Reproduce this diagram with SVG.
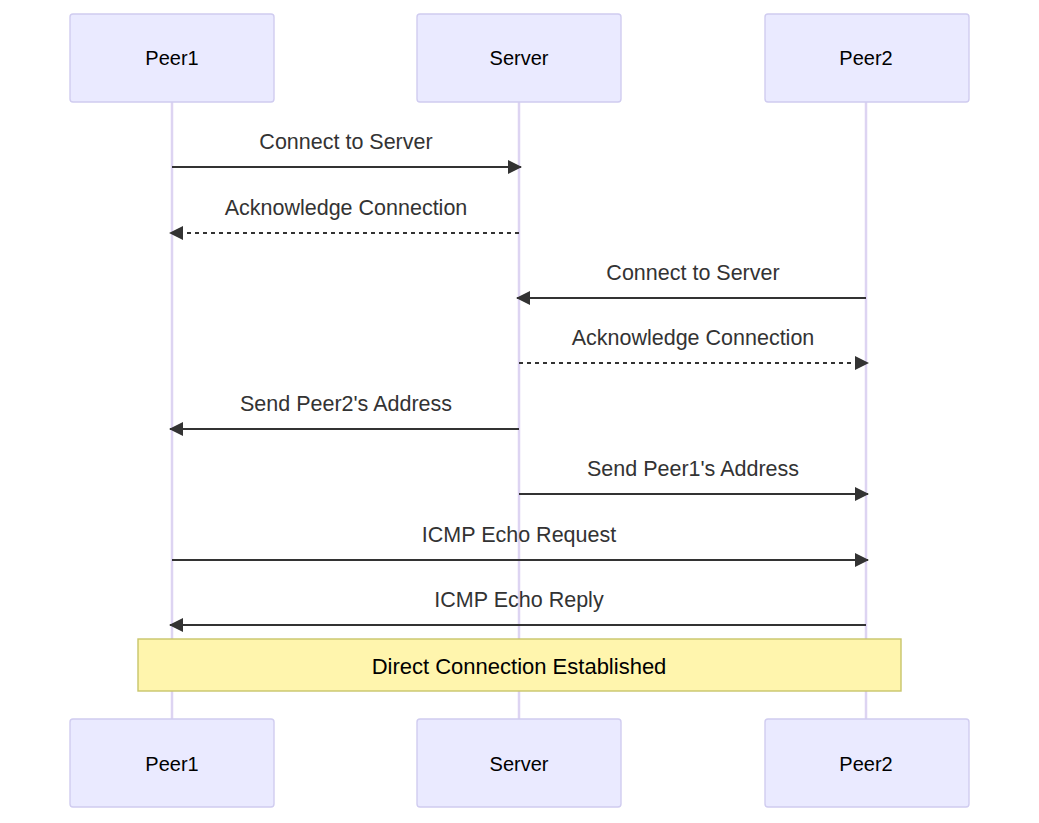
<svg xmlns="http://www.w3.org/2000/svg" width="1039" height="823" viewBox="0 0 1039 823">
<style>
.actor{fill:#eaeaff;stroke:#d0ccf0;stroke-width:1.4}
.lifeline{stroke:#ddd4f2;stroke-width:2.5}
.lbl{font-family:"Liberation Sans",Arial,sans-serif;font-size:20px;fill:#000;text-anchor:middle;dominant-baseline:central}
.msg{font-family:"Liberation Sans",Arial,sans-serif;font-size:21.5px;fill:#333;text-anchor:middle;dominant-baseline:central}
.ntxt{font-family:"Liberation Sans",Arial,sans-serif;font-size:22px;fill:#000;text-anchor:middle;dominant-baseline:central}
.solid{stroke:#333;stroke-width:2;fill:none}
.dash{stroke:#333;stroke-width:2;fill:none;stroke-dasharray:4 4}
.note{fill:#fff5ad;stroke:#c8c56a;stroke-width:1.4}
</style>
<defs>
<marker id="ah2" viewBox="0 0 14 14" refX="13" refY="7" markerWidth="14" markerHeight="14" markerUnits="userSpaceOnUse" orient="auto">
<path d="M0,0 L14,7 L0,14 z" fill="#333"/>
</marker>
</defs>
<g id="lifelines">
<line class="lifeline" x1="172" y1="102" x2="172" y2="719"/>
<line class="lifeline" x1="519" y1="102" x2="519" y2="719"/>
<line class="lifeline" x1="866" y1="102" x2="866" y2="719"/>
</g>
<g id="actor-peer1-top"><rect class="actor" x="70" y="14" width="204" height="88" rx="3"/><text class="lbl" x="172" y="58">Peer1</text></g>
<g id="actor-server-top"><rect class="actor" x="417" y="14" width="204" height="88" rx="3"/><text class="lbl" x="519" y="58">Server</text></g>
<g id="actor-peer2-top"><rect class="actor" x="765" y="14" width="204" height="88" rx="3"/><text class="lbl" x="866" y="58">Peer2</text></g>
<g id="connectors">
<text class="msg" x="346" y="142">Connect to Server</text>
<line class="solid" x1="172" y1="167" x2="521" y2="167" marker-end="url(#ah2)"/>
<text class="msg" x="346" y="208">Acknowledge Connection</text>
<line class="dash" x1="519" y1="233" x2="170" y2="233" marker-end="url(#ah2)"/>
<text class="msg" x="693" y="273">Connect to Server</text>
<line class="solid" x1="866" y1="298" x2="517" y2="298" marker-end="url(#ah2)"/>
<text class="msg" x="693" y="338">Acknowledge Connection</text>
<line class="dash" x1="519" y1="363" x2="868" y2="363" marker-end="url(#ah2)"/>
<text class="msg" x="346" y="404">Send Peer2's Address</text>
<line class="solid" x1="519" y1="429" x2="170" y2="429" marker-end="url(#ah2)"/>
<text class="msg" x="693" y="469">Send Peer1's Address</text>
<line class="solid" x1="519" y1="494" x2="868" y2="494" marker-end="url(#ah2)"/>
<text class="msg" x="519" y="535">ICMP Echo Request</text>
<line class="solid" x1="172" y1="560" x2="868" y2="560" marker-end="url(#ah2)"/>
<text class="msg" x="519" y="600">ICMP Echo Reply</text>
<line class="solid" x1="866" y1="625" x2="170" y2="625" marker-end="url(#ah2)"/>
</g>
<g id="note"><rect class="note" x="138" y="639" width="763" height="52"/><text class="ntxt" x="519" y="666">Direct Connection Established</text></g>
<g id="actor-peer1-bottom"><rect class="actor" x="70" y="719" width="204" height="88" rx="3"/><text class="lbl" x="172" y="764">Peer1</text></g>
<g id="actor-server-bottom"><rect class="actor" x="417" y="719" width="204" height="88" rx="3"/><text class="lbl" x="519" y="764">Server</text></g>
<g id="actor-peer2-bottom"><rect class="actor" x="765" y="719" width="204" height="88" rx="3"/><text class="lbl" x="866" y="764">Peer2</text></g>
</svg>
